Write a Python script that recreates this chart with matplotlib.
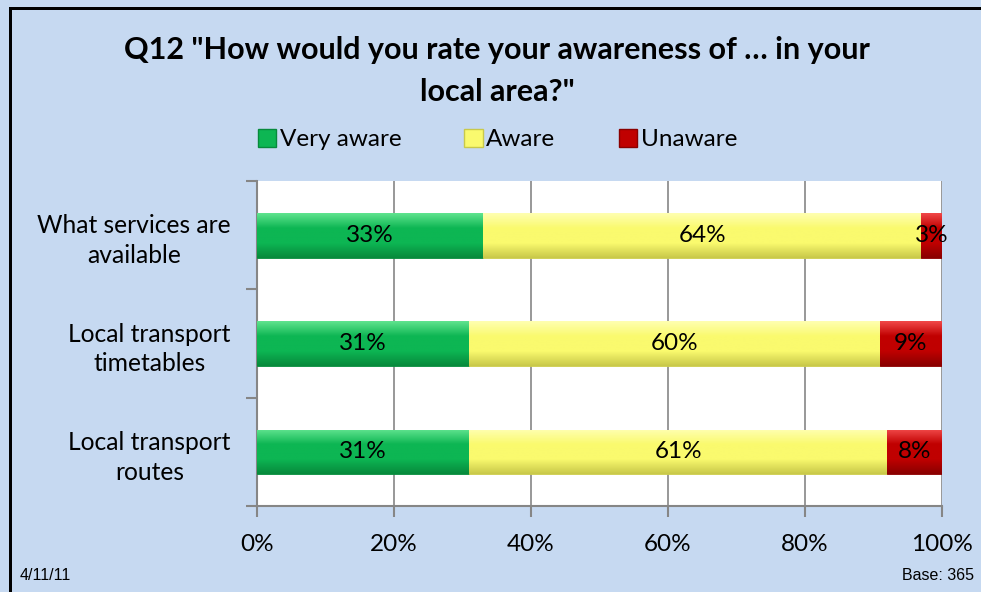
import matplotlib.pyplot as plt
import numpy as np
from matplotlib.colors import LinearSegmentedColormap
from matplotlib.patches import Patch, Rectangle

CATEGORIES = ["What services are\navailable", "Local transport\ntimetables", "Local transport\nroutes"]
SERIES = ["Very aware", "Aware", "Unaware"]
VERY_AWARE = [33, 31, 31]
AWARE = [64, 60, 61]
UNAWARE = [3, 9, 8]
X_TICKS = [0, 20, 40, 60, 80, 100]

BG = "#C6D9F1"
GRID = "#868686"
# light, mid, dark shades for each series
SHADES = [
    ("#5FE38E", "#0DB653", "#078A3C"),
    ("#FFFFB0", "#FAFA6E", "#C9C94A"),
    ("#F04848", "#C00000", "#8A0000"),
]

plt.rcParams["font.family"] = ["Lato", "DejaVu Sans"]

fig = plt.figure(figsize=(9.81, 5.92), dpi=100, facecolor=BG)
ax = fig.add_axes([0.262, 0.145, 0.698, 0.549])
ax.set_facecolor("white")

y = np.arange(len(CATEGORIES))[::-1]
values = [VERY_AWARE, AWARE, UNAWARE]
left = np.zeros(len(CATEGORIES))
for vals, shades in zip(values, SHADES):
    bars = ax.barh(y, vals, left=left, height=0.41, color=shades[1],
                   edgecolor=shades[2], linewidth=0.6, zorder=3)
    cmap = LinearSegmentedColormap.from_list("g", [shades[0], shades[1], shades[1], shades[2]])
    for bar, v in zip(bars, vals):
        x0, y0 = bar.get_x(), bar.get_y()
        w, h = bar.get_width(), bar.get_height()
        grad = np.linspace(0, 1, 64).reshape(-1, 1)
        im = ax.imshow(grad, cmap=cmap, aspect="auto", extent=(x0, x0 + w, y0, y0 + h),
                       origin="upper", zorder=3.5)
        im.set_clip_path(bar)
        ax.text(x0 + w / 2, y0 + h / 2, f"{v}%", ha="center", va="center",
                fontsize=17.5, color="black", zorder=5, clip_on=False)
    left += np.array(vals)

ax.set_xlim(0, 100)
ax.set_ylim(-0.5, len(CATEGORIES) - 0.5)
ax.set_xticks(X_TICKS)
ax.set_xticklabels([f"{t}%" for t in X_TICKS], fontsize=17.5)
ax.set_yticks(y)
ax.set_yticklabels(CATEGORIES, fontsize=17.7, multialignment="center", linespacing=1.35)
ax.set_yticks(np.arange(-0.5, len(CATEGORIES), 1.0), minor=True)
ax.tick_params(axis="y", which="major", length=0, pad=19)
ax.tick_params(axis="y", which="minor", length=8, width=1.5, color=GRID)
ax.tick_params(axis="x", length=8, width=1.5, color=GRID, pad=12)
ax.grid(axis="x", color=GRID, linewidth=1.2, zorder=0)
ax.set_axisbelow(True)
for side in ["top", "right"]:
    ax.spines[side].set_visible(False)
for side in ["left", "bottom"]:
    ax.spines[side].set_color(GRID)
    ax.spines[side].set_linewidth(1.5)

fig.text(0.507, 0.915, "Q12 \"How would you rate your awareness of \u2026 in your",
         ha="center", va="center", fontsize=22, fontweight="bold")
fig.text(0.507, 0.844, "local area?\"", ha="center", va="center",
         fontsize=22, fontweight="bold")

handles = [Patch(facecolor=s[1], edgecolor=s[2]) for s in SHADES]
fig.legend(handles, SERIES, loc="center", bbox_to_anchor=(0.507, 0.764), ncol=3,
           frameon=False, fontsize=17.5, handlelength=0.75, handleheight=0.75,
           handletextpad=0.15, columnspacing=2.6)

fig.text(0.02, 0.02, "4/11/11", fontsize=11.5, family="Liberation Sans")
fig.text(0.993, 0.02, "Base: 365", fontsize=11.5, family="Liberation Sans", ha="right")

# chart frame on the left and top edges, drawn as thin filled strips
fig.add_artist(Rectangle((9, 0), 3, 585, transform=None, facecolor="black",
                         edgecolor="none"))
fig.add_artist(Rectangle((9, 582), 972, 3, transform=None, facecolor="black",
                         edgecolor="none"))

fig.savefig("out.png", dpi=100, facecolor=BG)
